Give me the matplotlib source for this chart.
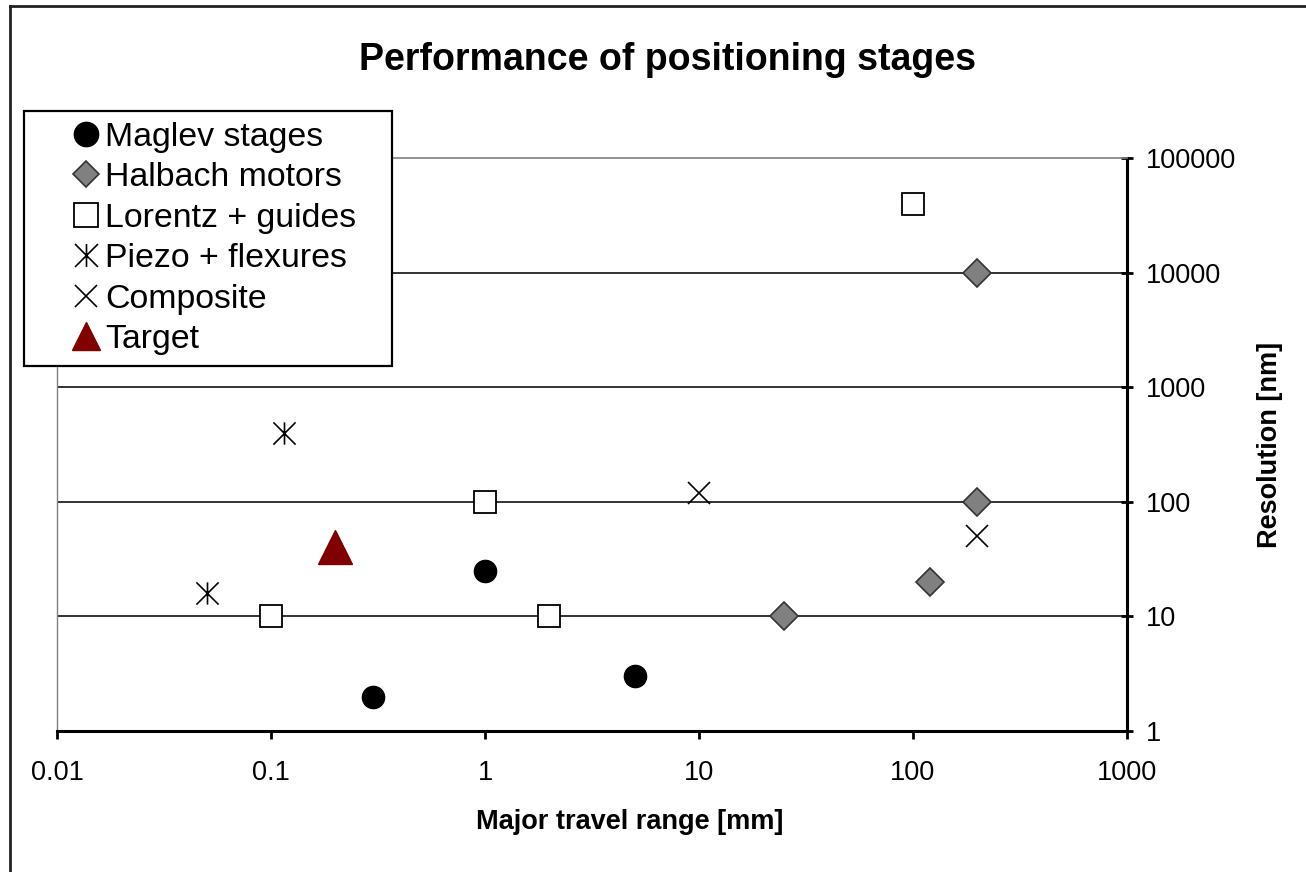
import numpy as np
import matplotlib
matplotlib.use("Agg")
import matplotlib.pyplot as plt
from matplotlib.path import Path
from matplotlib.lines import Line2D
from matplotlib.legend_handler import HandlerLine2D
from matplotlib.ticker import FixedLocator, NullLocator

plt.rcParams['font.family'] = ['Liberation Sans', 'DejaVu Sans']

# data: travel range [mm], resolution [nm]
maglev_x = [0.3, 1, 5]
maglev_y = [2, 25, 3]
halbach_x = [200, 200, 25, 120]
halbach_y = [10000, 100, 10, 20]
lorentz_x = [100, 1, 0.1, 2]
lorentz_y = [40000, 100, 10, 10]
piezo_x = [0.115, 0.05]
piezo_y = [400, 16]
composite_x = [10, 200]
composite_y = [120, 50]
target_x = [0.2]
target_y = [40]

x_ticks = [0.01, 0.1, 1, 10, 100, 1000]
x_labels = ['0.01', '0.1', '1', '10', '100', '1000']
y_ticks = [1, 10, 100, 1000, 10000, 100000]
y_labels = ['1', '10', '100', '1000', '10000', '100000']

# vertical bar + diagonal cross, like the Excel asterisk
star = Path([(0, -1), (0, 1), (-1, -1), (1, 1), (-1, 1), (1, -1)],
            [Path.MOVETO, Path.LINETO, Path.MOVETO, Path.LINETO, Path.MOVETO, Path.LINETO])

W, H = 1306, 872
fig = plt.figure(figsize=(W / 100, H / 100), dpi=100)
ax = fig.add_axes([57 / W, 1 - 731 / H, (1127 - 57) / W, (731 - 158) / H])
ax.set_xscale('log')
ax.set_yscale('log')
ax.set_xlim(0.01, 1000)
ax.set_ylim(1, 100000)

ms = dict(linestyle='none', zorder=4, clip_on=False)
ax.plot(maglev_x, maglev_y, marker='o', ms=16, mfc='black', mec='black', label='Maglev stages', **ms)
ax.plot(halbach_x, halbach_y, marker='D', ms=14, mfc='#808080', mec='#333333', mew=1.2,
        label='Halbach motors', **ms)
ax.plot(lorentz_x, lorentz_y, marker='s', ms=15.5, mfc='white', mec='black', mew=1.3,
        label='Lorentz + guides', **ms)
ax.plot(piezo_x, piezo_y, marker=star, ms=16, mfc='none', mec='black', mew=1.2,
        label='Piezo + flexures', **ms)
ax.plot(composite_x, composite_y, marker='x', ms=16, mec='black', mew=1.2,
        label='Composite', **ms)
ax.plot(target_x, target_y, marker='^', ms=24, mfc='#800000', mec='#800000',
        label='Target', **ms)

# axes look: y axis on the right, gray frame top/left
ax.spines['left'].set_color('#808080')
ax.spines['top'].set_color('#808080')
ax.spines['left'].set_linewidth(1.0)
ax.spines['top'].set_linewidth(1.2)
ax.spines['right'].set_linewidth(2.2)
ax.spines['bottom'].set_linewidth(2.2)
ax.yaxis.tick_right()
ax.yaxis.set_label_position('right')

ax.xaxis.set_major_locator(FixedLocator(x_ticks))
ax.xaxis.set_minor_locator(NullLocator())
ax.set_xticklabels(x_labels)
ax.yaxis.set_major_locator(FixedLocator(y_ticks))
ax.yaxis.set_minor_locator(NullLocator())
ax.set_yticklabels(y_labels)

ax.tick_params(axis='x', direction='out', length=6, width=2, pad=15, labelsize=19.5)
ax.tick_params(axis='y', direction='inout', length=9, width=2, pad=9, labelsize=19.5,
               left=False, right=True)

ax.grid(True, axis='y', color='#222222', linewidth=1.3, zorder=1)
ax.set_axisbelow(True)
for t in ax.yaxis.get_major_ticks():
    if t.get_loc() in (y_ticks[0], y_ticks[-1]):
        t.gridline.set_visible(False)

ax.set_xlabel('Major travel range [mm]', fontsize=19.5, fontweight='bold')
ax.xaxis.set_label_coords((630 - 57) / 1070, (731 - 822) / 573)
ax.xaxis.label.set_va('center')
ax.set_ylabel('Resolution [nm]', fontsize=19.5, fontweight='bold', rotation=90)
ax.yaxis.set_label_coords((1270 - 57) / 1070, (731 - 445) / 573)
ax.yaxis.label.set_va('center')

fig.text(667 / W, 1 - 60 / H, 'Performance of positioning stages', fontsize=27,
         fontweight='bold', ha='center', va='center')

leg = ax.legend(loc='upper left', bbox_to_anchor=(24 / W, 1 - 365 / H, 368 / W, 254 / H),
                bbox_transform=fig.transFigure, mode='expand', fontsize=24.4, frameon=True,
                fancybox=False, edgecolor='black', framealpha=1, borderpad=0.32,
                labelspacing=0.28, handlelength=2.07, handletextpad=0.0,
                borderaxespad=0, numpoints=1,
                handler_map={Line2D: HandlerLine2D(xpad=0.96)})
leg.get_frame().set_linewidth(1.6)
leg.set_zorder(10)
for h, s in zip(leg.legend_handles, [17.5, 13.5, 17.5, 16.5, 16, 19.5]):
    h.set_markersize(s)

# outer chart-area frame (left and top edges visible)
fig.add_artist(Line2D([10 / W, 10 / W], [0, 1 - 6 / H], transform=fig.transFigure,
                      color='#222222', linewidth=2))
fig.add_artist(Line2D([10 / W, 1], [1 - 6 / H, 1 - 6 / H], transform=fig.transFigure,
                      color='#222222', linewidth=2))

fig.savefig('out.png', dpi=100)
